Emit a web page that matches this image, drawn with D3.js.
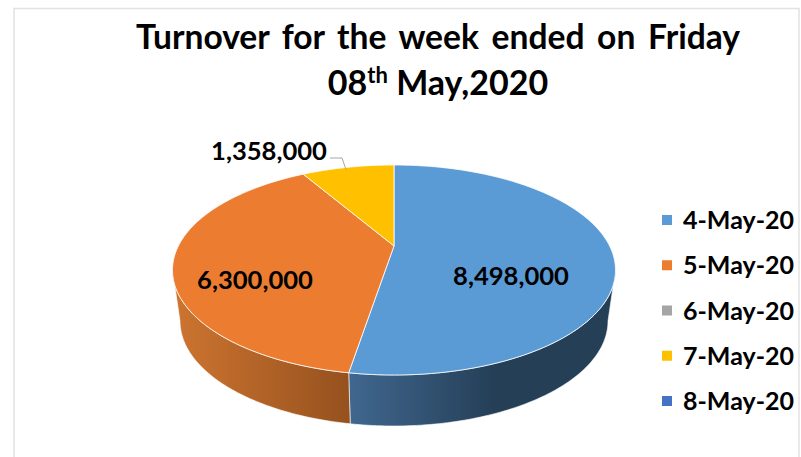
<!DOCTYPE html>
<html>
<head>
<meta charset="utf-8">
<script src="https://cdn.jsdelivr.net/npm/d3@7"></script>
<style>
  html, body { margin: 0; padding: 0; background: #fff; }
  text { font-family: Lato, "Open Sans", sans-serif; font-weight: 700; fill: #000; }
</style>
</head>
<body>
<div id="chart"></div>
<script>
const days = ["4-May-20", "5-May-20", "6-May-20", "7-May-20", "8-May-20"];
const turnover = [8498000, 6300000, 0, 1358000, 0];
const colors = ["#5b9bd5", "#eb7c30", "#a5a5a5", "#ffc000", "#4472c4"];
const titleLine1 = "Turnover for the week ended on Friday";

const width = 801, height = 457;
const cx = 394, rx = 221.5, ry = 105, topY = 270, depth = 51, bottomRx = 214;
const tilt = 0.229; // la perspective remonte le centre du disque

const svg = d3.select("#chart").append("svg")
    .attr("width", width)
    .attr("height", height)
    .style("display", "block");

// cadre
svg.append("path")
    .attr("d", d3.line()([[14, height], [14, 8.5], [799, 8.5], [799, height]]))
    .attr("fill", "none")
    .attr("stroke", "#e2e2e2")
    .attr("stroke-width", 1.5);

const slices = d3.pie().sort(null)(turnover);

const xTop = d3.scaleLinear().domain([-1, 1]).range([cx - rx, cx + rx]);
const yTop = d3.scaleLinear().domain([-1, 1]).range([topY - ry, topY + ry]);
const xBottom = d3.scaleLinear().domain([-1, 1]).range([cx - bottomRx, cx + bottomRx]);
const yBottom = d3.scaleLinear().domain([-1, 1]).range([topY + depth - ry, topY + depth + ry]);

// angle (depuis le haut, sens horaire) -> point du disque en perspective
function project(angle, r = 1) {
    const u = Math.sin(angle) * r;
    const v = -Math.cos(angle) * r;
    const k = 1 - tilt * v;
    return [u * Math.sqrt(1 - tilt * tilt) / k, (v - tilt) / k];
}

function arcPoints(a0, a1, xs, ys) {
    const n = Math.max(2, Math.ceil((a1 - a0) * 60));
    return d3.range(n + 1).map(i => {
        const p = project(a0 + (a1 - a0) * i / n);
        return [xs(p[0]), ys(p[1])];
    });
}

const line = d3.line();
const defs = svg.append("defs");

function wallGradient(id, x0, x1, c0, c1) {
    const g = defs.append("linearGradient")
        .attr("id", id)
        .attr("gradientUnits", "userSpaceOnUse")
        .attr("x1", x0).attr("x2", x1)
        .attr("y1", 0).attr("y2", 0);
    g.append("stop").attr("offset", 0).attr("stop-color", c0);
    g.append("stop").attr("offset", 1).attr("stop-color", c1);
}

wallGradient("wall-0", xTop(-0.2), xTop(0.45), "#40678f", "#253f57");
wallGradient("wall-1", xTop(-0.98), xTop(-0.2), "#cc7430", "#96511e");

// flanc visible : seulement la moitié avant du disque
const wallMin = Math.PI / 2 + Math.asin(tilt);
const wallMax = 2 * Math.PI - wallMin;

slices.forEach(s => {
    const a0 = Math.max(s.startAngle, wallMin);
    const a1 = Math.min(s.endAngle, wallMax);
    if (a1 <= a0) return;
    const pts = arcPoints(a0, a1, xTop, yTop)
        .concat(arcPoints(a0, a1, xBottom, yBottom).reverse());
    svg.append("path")
        .attr("d", line(pts) + "Z")
        .attr("fill", `url(#wall-${s.index})`)
        .attr("stroke", "#ffffff")
        .attr("stroke-opacity", 0.75)
        .attr("stroke-width", 0.8);
});

// dessus du camembert
slices.filter(s => s.value > 0).forEach(s => {
    const c = project(0, 0);
    const pts = [[xTop(c[0]), yTop(c[1])]].concat(arcPoints(s.startAngle, s.endAngle, xTop, yTop));
    svg.append("path")
        .attr("d", line(pts) + "Z")
        .attr("fill", colors[s.index])
        .attr("stroke", "#ffffff")
        .attr("stroke-opacity", 0.8)
        .attr("stroke-width", 1);
});

// trait de rappel de la petite part
const small = slices[3];
const mid = project((small.startAngle + small.endAngle) / 2);
svg.append("path")
    .attr("d", line([[330, 158], [342, 158], [xTop(mid[0]) - 2, yTop(mid[1]) + 2]]))
    .attr("fill", "none")
    .attr("stroke", "#a6a6a6")
    .attr("stroke-width", 1);

// étiquettes de valeurs
const fmt = d3.format(",");
const labelPos = [[511, 276], [255, 280], null, [269, 151], null];
slices.filter(s => s.value > 0).forEach(s => {
    svg.append("text")
        .attr("x", labelPos[s.index][0])
        .attr("y", labelPos[s.index][1])
        .attr("dy", "0.35em")
        .attr("text-anchor", "middle")
        .style("font-size", "25.6px")
        .text(fmt(s.value));
});

// titre
svg.append("text")
    .attr("x", 438).attr("y", 49)
    .attr("text-anchor", "middle")
    .style("font-size", "33.6px")
    .style("word-spacing", "4.5px")
    .text(titleLine1);

const title2 = svg.append("text")
    .attr("x", 438).attr("y", 95)
    .attr("text-anchor", "middle")
    .style("font-size", "34px");
title2.append("tspan").text("08");
title2.append("tspan").attr("dy", -12).style("font-size", "22px").text("th");
title2.append("tspan").attr("dy", 12).text(" May,2020");

// légende
const legendY = d3.scalePoint().domain(days).range([220, 401]);
const legend = svg.selectAll(".legend")
    .data(days)
    .enter().append("g")
    .attr("class", "legend")
    .attr("transform", d => `translate(662,${legendY(d)})`);

legend.append("rect")
    .attr("y", -5)
    .attr("width", 10)
    .attr("height", 10)
    .attr("fill", (d, i) => colors[i]);

legend.append("text")
    .attr("x", 21)
    .attr("y", 9)
    .style("font-size", "25px")
    .text(d => d);
</script>
</body>
</html>
